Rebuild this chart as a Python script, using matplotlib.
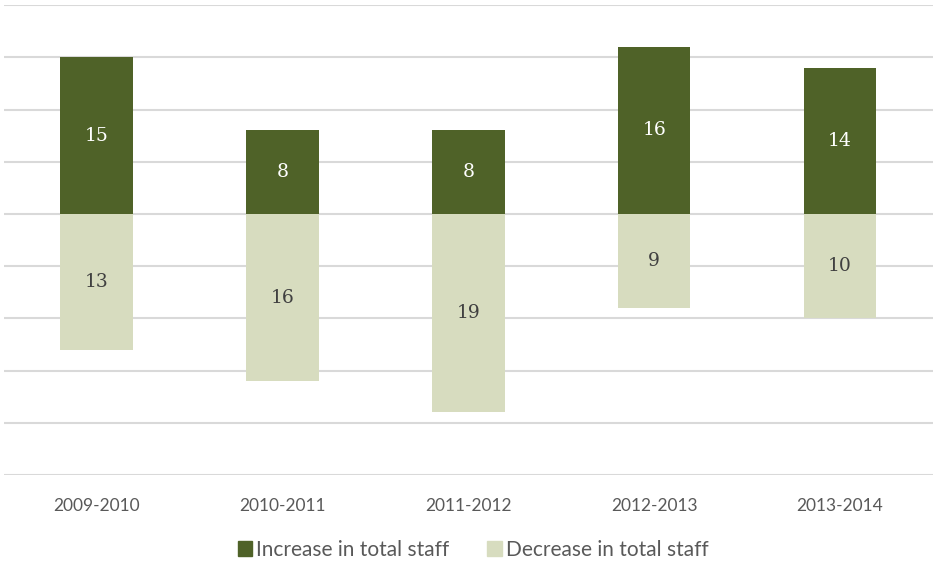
# staff change per year, increases above zero and decreases below

import numpy as np
import matplotlib.pyplot as plt
from matplotlib.patches import Patch

years = ['2009-2010', '2010-2011', '2011-2012', '2012-2013', '2013-2014']
increase = [15, 8, 8, 16, 14]
decrease = [13, 16, 19, 9, 10]

dark = '#4F6228'
light = '#D7DCBF'
grey = '#595959'

fig = plt.figure(figsize=(9.33, 5.61), dpi=100)
ax = fig.add_axes([0.004, 0.153, 0.996, 0.838])

x = np.arange(len(years))
ax.bar(x, increase, width=0.39, color=dark, zorder=3)
ax.bar(x, [-d for d in decrease], width=0.39, color=light, zorder=3)

for i in range(len(years)):
    ax.text(x[i], increase[i] / 2, str(increase[i]), ha='center', va='center',
            color='white', fontsize=13.5, family='DejaVu Serif', zorder=4)
    ax.text(x[i], -decrease[i] / 2, str(decrease[i]), ha='center', va='center',
            color='#404040', fontsize=13.5, family='DejaVu Serif', zorder=4)

ax.set_xlim(-0.5, len(years) - 0.5)
ax.set_ylim(-25, 20)
ax.set_yticks(np.arange(-25, 21, 5))
ax.yaxis.grid(True, color='#D9D9D9', lw=1.5, zorder=0)
ax.tick_params(axis='y', left=False, labelleft=False)
ax.tick_params(axis='x', bottom=False, pad=13, labelsize=12.5, labelcolor=grey)
ax.set_xticks(x)
ax.set_xticklabels(years, family='Lato')
for s in ax.spines.values():
    s.set_visible(False)

handles = [Patch(color=dark, label='Increase in total staff'),
           Patch(color=light, label='Decrease in total staff')]
fig.legend(handles=handles, loc='center', bbox_to_anchor=(0.507, 0.02), ncol=2,
           frameon=False, prop={'family': 'Lato', 'size': 15}, labelcolor=grey,
           handlelength=0.7, handleheight=0.7, handletextpad=0.2, columnspacing=1.8)

plt.savefig('out.png', dpi=100)
